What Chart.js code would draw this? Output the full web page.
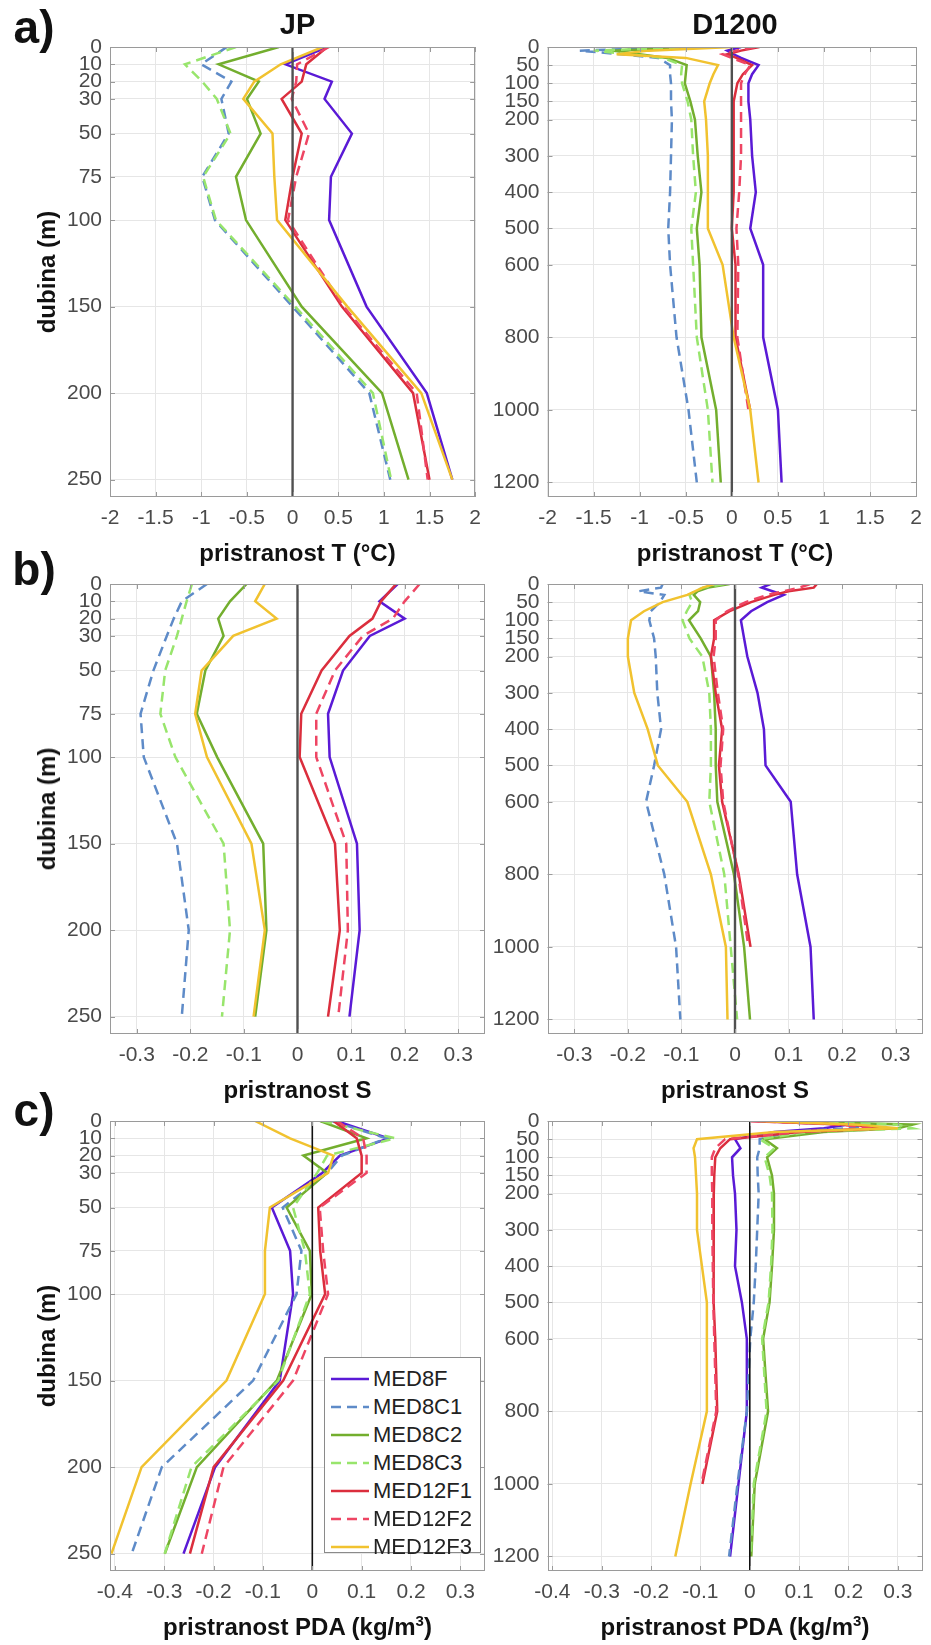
<!DOCTYPE html>
<html>
<head>
<meta charset="utf-8">
<script src="https://cdn.jsdelivr.net/npm/chart.js@4.4.1/dist/chart.umd.min.js"></script>
<style>
html,body{margin:0;padding:0;background:#fff;}
body{width:931px;height:1645px;position:relative;overflow:hidden;font-family:"Liberation Sans",Arial,sans-serif;}
canvas{position:absolute;}
.t{position:absolute;transform:translate(-50%,-50%);white-space:nowrap;color:#111;font-weight:bold;line-height:1;}
.letter{font-size:46px;}
.ptitle{font-size:29px;}
.xtitle{font-size:24px;}
.ytitle{font-size:24px;transform:translate(-50%,-50%) rotate(-90deg);}
#legend{position:absolute;left:324px;top:1357px;width:157px;height:196px;border:1px solid #8a8a8a;background:#fff;box-sizing:border-box;}
#legend .row{position:absolute;left:0;height:28px;display:flex;align-items:center;font-size:22px;color:#222;}
#legend svg{margin-left:6px;margin-right:4px;}
</style>
</head>
<body>
<script>
// ---------------- data ----------------
const SERIES = ['MED8F','MED8C1','MED8C2','MED8C3','MED12F1','MED12F2','MED12F3'];
const JP_DEPTH = [0,10,20,30,50,75,100,150,200,250];
const D1200_DEPTH = [0,10,20,30,50,75,100,150,200,300,400,500,600,800,1000,1200];
const JP_TICKS = [0,10,20,30,50,75,100,150,200,250];
const D1200_TICKS = [0,50,100,150,200,300,400,500,600,800,1000,1200];
const T_TICKS = [-2,-1.5,-1,-0.5,0,0.5,1,1.5,2];
const S_TICKS = [-0.3,-0.2,-0.1,0,0.1,0.2,0.3];
const PDA_TICKS = [-0.4,-0.3,-0.2,-0.1,0,0.1,0.2,0.3];

// a) temperature bias, JP
const T_JP_MED8F   = [0.38,-0.08,0.43,0.35,0.65,0.42,0.40,0.81,1.47,1.75];
const T_JP_MED8C1  = [-0.72,-1.00,-0.67,-0.78,-0.70,-0.99,-0.85,0.00,0.84,1.07];
const T_JP_MED8C2  = [-0.15,-0.81,-0.37,-0.50,-0.35,-0.62,-0.51,0.10,0.98,1.27];
const T_JP_MED8C3  = [-0.62,-1.18,-0.99,-0.83,-0.68,-0.98,-0.84,0.03,0.88,1.08];
const T_JP_MED12F1 = [0.38,0.15,0.10,-0.12,0.10,0.00,-0.08,0.54,1.32,1.50];
const T_JP_MED12F2 = [0.40,0.05,0.04,-0.01,0.18,0.04,-0.05,0.56,1.36,1.48];
const T_JP_MED12F3 = [0.33,-0.13,-0.42,-0.54,-0.22,-0.20,-0.17,0.60,1.41,1.75];

// a) temperature bias, D1200
const T_D_MED8F   = [0.10,-0.05,0.02,0.10,0.29,0.22,0.18,0.18,0.20,0.22,0.26,0.20,0.34,0.34,0.50,0.54];
const T_D_MED8C1  = [-0.50,-1.65,-1.20,-0.80,-0.67,-0.67,-0.66,-0.66,-0.65,-0.66,-0.67,-0.69,-0.67,-0.60,-0.47,-0.38];
const T_D_MED8C2  = [-0.30,-1.30,-1.00,-0.70,-0.49,-0.50,-0.51,-0.45,-0.40,-0.37,-0.33,-0.38,-0.35,-0.33,-0.17,-0.12];
const T_D_MED8C3  = [-0.40,-1.50,-1.10,-0.75,-0.54,-0.55,-0.54,-0.48,-0.44,-0.42,-0.39,-0.44,-0.42,-0.38,-0.26,-0.21];
const T_D_MED12F1 = [0.30,0.10,-0.05,0.05,0.22,0.12,0.06,0.02,0.02,0.02,0.02,0.00,0.04,0.04,0.20];
const T_D_MED12F2 = [0.25,0.05,-0.10,0.00,0.20,0.14,0.10,0.10,0.10,0.10,0.08,0.05,0.07,0.06,0.18];
const T_D_MED12F3 = [0.00,-0.90,-1.25,-0.50,-0.15,-0.20,-0.24,-0.30,-0.28,-0.26,-0.26,-0.26,-0.10,0.02,0.20,0.29];

// b) salinity bias, JP
const S_JP_MED8F   = [0.187,0.153,0.200,0.135,0.085,0.057,0.060,0.111,0.116,0.097];
const S_JP_MED8C1  = [-0.169,-0.216,-0.231,-0.244,-0.269,-0.293,-0.287,-0.225,-0.203,-0.216];
const S_JP_MED8C2  = [-0.095,-0.126,-0.148,-0.138,-0.172,-0.188,-0.150,-0.064,-0.058,-0.079];
const S_JP_MED8C3  = [-0.197,-0.207,-0.216,-0.225,-0.247,-0.256,-0.228,-0.138,-0.126,-0.141];
const S_JP_MED12F1 = [0.184,0.156,0.140,0.097,0.045,0.007,0.004,0.070,0.079,0.057];
const S_JP_MED12F2 = [0.228,0.200,0.178,0.122,0.070,0.035,0.035,0.091,0.094,0.076];
const S_JP_MED12F3 = [-0.061,-0.079,-0.039,-0.120,-0.179,-0.191,-0.169,-0.086,-0.061,-0.082];

// b) salinity bias, D1200
const S_D_MED8F   = [0.066,0.050,0.070,0.091,0.060,0.030,0.011,0.017,0.023,0.042,0.054,0.057,0.104,0.116,0.141,0.147];
const S_D_MED8C1  = [-0.135,-0.138,-0.180,-0.132,-0.140,-0.157,-0.160,-0.151,-0.148,-0.145,-0.138,-0.151,-0.166,-0.132,-0.110,-0.102];
const S_D_MED8C2  = [-0.010,-0.050,-0.070,-0.077,-0.065,-0.069,-0.086,-0.064,-0.045,-0.039,-0.036,-0.036,-0.033,-0.002,0.017,0.028];
const S_D_MED8C3  = [-0.020,-0.060,-0.075,-0.085,-0.080,-0.090,-0.098,-0.085,-0.061,-0.048,-0.045,-0.045,-0.048,-0.020,-0.008,0.004];
const S_D_MED12F1 = [0.153,0.147,0.100,0.073,0.030,-0.010,-0.039,-0.039,-0.045,-0.036,-0.024,-0.030,-0.024,0.007,0.029];
const S_D_MED12F2 = [0.140,0.120,0.090,0.060,0.020,-0.015,-0.036,-0.036,-0.040,-0.032,-0.022,-0.027,-0.022,0.006,0.025];
const S_D_MED12F3 = [-0.039,-0.060,-0.075,-0.089,-0.135,-0.170,-0.194,-0.200,-0.200,-0.188,-0.163,-0.144,-0.089,-0.045,-0.017,-0.014];

// c) potential density anomaly bias, JP
const PDA_JP_MED8F   = [0.049,0.154,0.056,0.020,-0.082,-0.045,-0.039,-0.066,-0.197,-0.261];
const PDA_JP_MED8C1  = [0.040,0.150,0.060,0.030,-0.060,-0.022,-0.032,-0.120,-0.305,-0.366];
const PDA_JP_MED8C2  = [0.016,0.110,-0.018,0.030,-0.052,-0.005,-0.001,-0.072,-0.234,-0.299];
const PDA_JP_MED8C3  = [0.020,0.168,0.030,0.010,-0.039,-0.015,-0.005,-0.069,-0.245,-0.299];
const PDA_JP_MED12F1 = [0.043,0.090,0.100,0.100,0.012,0.016,0.026,-0.059,-0.200,-0.248];
const PDA_JP_MED12F2 = [0.050,0.103,0.110,0.110,0.015,0.022,0.032,-0.039,-0.180,-0.224];
const PDA_JP_MED12F3 = [-0.116,-0.045,0.043,0.032,-0.086,-0.096,-0.096,-0.174,-0.346,-0.407];

// c) potential density anomaly bias, D1200
const PDA_D_MED8F   = [0.02,0.20,0.15,0.05,-0.030,-0.019,-0.036,-0.034,-0.030,-0.027,-0.030,-0.016,-0.006,-0.006,-0.023,-0.040];
const PDA_D_MED8C1  = [0.02,0.25,0.20,0.08,0.020,0.020,0.015,0.016,0.018,0.015,0.012,0.008,0.001,-0.006,-0.025,-0.042];
const PDA_D_MED8C2  = [0.03,0.33,0.30,0.15,0.030,0.055,0.035,0.045,0.049,0.049,0.045,0.040,0.027,0.037,0.010,0.003];
const PDA_D_MED8C3  = [0.03,0.30,0.33,0.12,0.020,0.050,0.030,0.040,0.045,0.046,0.043,0.038,0.025,0.034,0.008,0.002];
const PDA_D_MED12F1 = [0.00,0.20,0.28,0.10,-0.040,-0.060,-0.070,-0.072,-0.073,-0.074,-0.073,-0.073,-0.070,-0.066,-0.096];
const PDA_D_MED12F2 = [0.00,0.18,0.25,0.10,-0.050,-0.070,-0.077,-0.077,-0.076,-0.076,-0.075,-0.074,-0.072,-0.068,-0.098];
const PDA_D_MED12F3 = [0.02,0.22,0.30,0.05,-0.107,-0.114,-0.111,-0.109,-0.107,-0.107,-0.097,-0.087,-0.087,-0.087,-0.120,-0.151];

// ---------------- styles ----------------
const COLORS = ['#5A1AD6','#5E8BC8','#73AE2E','#98E56C','#DB2E3D','#EE4563','#F1C22F'];
const DASHED = [false,true,false,true,false,true,false];

const ROW_TOPS = [47,584,1121];
const PLOT_H = 450;
const COLS = [
  {canvasLeft:0, canvasW:490, yw:110, pr:5},
  {canvasLeft:486, canvasW:445, yw:61.5, pr:8.5}
];

const PANELS = [
  {row:0,col:0,depth:JP_DEPTH,yTicks:JP_TICKS,yMax:260,xMin:-2,xMax:2,xTicks:T_TICKS,zero:{c:'#505050',w:2.4},
   series:[T_JP_MED8F,T_JP_MED8C1,T_JP_MED8C2,T_JP_MED8C3,T_JP_MED12F1,T_JP_MED12F2,T_JP_MED12F3]},
  {row:0,col:1,depth:D1200_DEPTH,yTicks:D1200_TICKS,yMax:1240,xMin:-2,xMax:2,xTicks:T_TICKS,zero:{c:'#505050',w:2.4},
   series:[T_D_MED8F,T_D_MED8C1,T_D_MED8C2,T_D_MED8C3,T_D_MED12F1,T_D_MED12F2,T_D_MED12F3]},
  {row:1,col:0,depth:JP_DEPTH,yTicks:JP_TICKS,yMax:260,xMin:-0.35,xMax:0.35,xTicks:S_TICKS,zero:{c:'#505050',w:2.4},
   series:[S_JP_MED8F,S_JP_MED8C1,S_JP_MED8C2,S_JP_MED8C3,S_JP_MED12F1,S_JP_MED12F2,S_JP_MED12F3]},
  {row:1,col:1,depth:D1200_DEPTH,yTicks:D1200_TICKS,yMax:1240,xMin:-0.35,xMax:0.35,xTicks:S_TICKS,zero:{c:'#505050',w:2.4},
   series:[S_D_MED8F,S_D_MED8C1,S_D_MED8C2,S_D_MED8C3,S_D_MED12F1,S_D_MED12F2,S_D_MED12F3]},
  {row:2,col:0,depth:JP_DEPTH,yTicks:JP_TICKS,yMax:260,xMin:-0.41,xMax:0.35,xTicks:PDA_TICKS,zero:{c:'#111',w:1.6},
   series:[PDA_JP_MED8F,PDA_JP_MED8C1,PDA_JP_MED8C2,PDA_JP_MED8C3,PDA_JP_MED12F1,PDA_JP_MED12F2,PDA_JP_MED12F3]},
  {row:2,col:1,depth:D1200_DEPTH,yTicks:D1200_TICKS,yMax:1240,xMin:-0.41,xMax:0.35,xTicks:PDA_TICKS,zero:{c:'#111',w:1.6},
   series:[PDA_D_MED8F,PDA_D_MED8C1,PDA_D_MED8C2,PDA_D_MED8C3,PDA_D_MED12F1,PDA_D_MED12F2,PDA_D_MED12F3]}
];

const boxPlugin = {
  id:'boxZero',
  afterDatasetsDraw(chart, args, opts){
    const {ctx, chartArea:a, scales:{x, y}} = chart;
    const x0 = x.getPixelForValue(0);
    ctx.save();
    ctx.strokeStyle = opts.zc; ctx.lineWidth = opts.zw;
    ctx.beginPath(); ctx.moveTo(x0, a.top); ctx.lineTo(x0, a.bottom); ctx.stroke();
    // box
    ctx.strokeStyle = '#9a9a9a'; ctx.lineWidth = 1;
    ctx.strokeRect(Math.round(a.left)+0.5, Math.round(a.top)+0.5, Math.round(a.right-a.left)-1, Math.round(a.bottom-a.top)-1);
    // inward tick marks on all four sides
    const tl = 5;
    ctx.beginPath();
    x.ticks.forEach(t => {
      const px = Math.round(x.getPixelForValue(t.value)) + 0.5;
      ctx.moveTo(px, a.bottom); ctx.lineTo(px, a.bottom - tl);
      ctx.moveTo(px, a.top); ctx.lineTo(px, a.top + tl);
    });
    y.ticks.forEach(t => {
      const py = Math.round(y.getPixelForValue(t.value)) + 0.5;
      ctx.moveTo(a.left, py); ctx.lineTo(a.left + tl, py);
      ctx.moveTo(a.right, py); ctx.lineTo(a.right - tl, py);
    });
    ctx.stroke();
    ctx.restore();
  }
};

const TICK_FONT = {family:'"Liberation Sans", Arial, sans-serif', size:21};
const fmt = v => String(v);

PANELS.forEach((p) => {
  const col = COLS[p.col];
  const top = ROW_TOPS[p.row] - 47;
  const H = 540;
  const cv = document.createElement('canvas');
  cv.width = col.canvasW; cv.height = H;
  cv.style.left = col.canvasLeft + 'px'; cv.style.top = top + 'px';
  cv.style.width = col.canvasW + 'px'; cv.style.height = H + 'px';
  document.body.appendChild(cv);

  const datasets = p.series.map((vals, i) => ({
    label: SERIES[i],
    data: vals.map((v, k) => ({x: v, y: p.depth[k]})),
    showLine: true,
    borderColor: COLORS[i],
    backgroundColor: COLORS[i],
    borderWidth: 2.5,
    borderDash: DASHED[i] ? [10,6] : [],
    pointRadius: 0,
    tension: 0,
    order: SERIES.length - i
  }));

  new Chart(cv, {
    type: 'scatter',
    data: {datasets},
    plugins: [boxPlugin],
    options: {
      responsive: false,
      animation: false,
      events: [],
      layout: {padding: {left: 0, top: 47, right: col.pr, bottom: 0}},
      plugins: {legend:{display:false}, tooltip:{enabled:false}, boxZero:{zc:p.zero.c, zw:p.zero.w}},
      scales: {
        x: {
          type:'linear', min:p.xMin, max:p.xMax,
          afterBuildTicks: s => { s.ticks = p.xTicks.map(v => ({value:v})); },
          afterFit: s => { s.height = 43; },
          ticks: {autoSkip:false, maxRotation:0, padding:9, color:'#4a4a4a', font:TICK_FONT, callback: fmt},
          grid: {color:'#e6e6e6', lineWidth:1, drawTicks:false},
          border: {display:false}
        },
        y: {
          type:'linear', reverse:true, min:0, max:p.yMax,
          afterBuildTicks: s => { s.ticks = p.yTicks.map(v => ({value:v})); },
          afterFit: s => { s.width = col.yw; },
          ticks: {autoSkip:false, padding:8, color:'#4a4a4a', font:TICK_FONT, callback: fmt},
          grid: {color:'#e6e6e6', lineWidth:1, drawTicks:false},
          border: {display:false}
        }
      }
    }
  });
});

// ---------------- text ----------------
function addText(cls, txt, x, y, html){
  const d = document.createElement('div');
  d.className = 't ' + cls;
  if (html) d.innerHTML = txt; else d.textContent = txt;
  d.style.left = x + 'px'; d.style.top = y + 'px';
  document.body.appendChild(d);
}
const LEFT_C = 297.5, RIGHT_C = 735;
addText('letter','a)',34,27);
addText('letter','b)',34,569);
addText('letter','c)',34,1110);
addText('ptitle','JP',LEFT_C,24);
addText('ptitle','D1200',RIGHT_C,24);
const XT = ['pristranost T (°C)','pristranost S','pristranost PDA (kg/m<sup style="font-size:15px;vertical-align:9px;line-height:0">3</sup>)'];
XT.forEach((t, r) => {
  const y = ROW_TOPS[r] + PLOT_H + 56;
  addText('xtitle', t, LEFT_C, y, true);
  addText('xtitle', t, RIGHT_C, y, true);
});
ROW_TOPS.forEach(t => addText('ytitle','dubina (m)',47,t + PLOT_H/2));

// legend
const lg = document.createElement('div');
lg.id = 'legend';
SERIES.forEach((name, i) => {
  const r = document.createElement('div');
  r.className = 'row';
  r.style.top = (7 + i*28) + 'px';
  r.innerHTML = '<svg width="38" height="6"><line x1="0" y1="3" x2="38" y2="3" stroke="' + COLORS[i] +
    '" stroke-width="2.5"' + (DASHED[i] ? ' stroke-dasharray="10 6"' : '') + '/></svg><span>' + name + '</span>';
  lg.appendChild(r);
});
document.body.appendChild(lg);
</script>
</body>
</html>
